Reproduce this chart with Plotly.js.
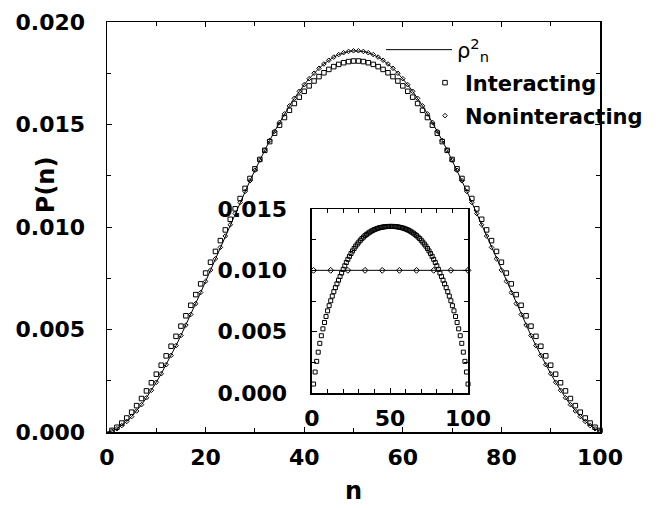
<!DOCTYPE html>
<html><head><meta charset="utf-8">
<script src="https://cdn.plot.ly/plotly-3.0.1.min.js"></script>
<style>body{margin:0;background:#fff}</style></head>
<body><div id="chart" style="width:666px;height:508px"></div>
<script>
// Main panel: n = 0..100 for the rho^2 line, n = 1..100 for the markers
const rho2 = [0,
0.0000475,0.0001565,0.0003139,0.0005138,0.0007523,0.0010263,0.001333,0.00167,0.002036,0.002427,
0.002843,0.003281,0.003738,0.004215,0.004707,0.005214,0.005733,0.006263,0.006802,0.007347,
0.007898,0.008451,0.009006,0.009559,0.01011,0.010658,0.011198,0.011731,0.012255,0.012767,
0.013266,0.013751,0.01422,0.014672,0.015104,0.015517,0.015908,0.016277,0.016621,0.016941,
0.017235,0.017502,0.017742,0.017953,0.018135,0.018288,0.018411,0.018503,0.018565,0.018596,
0.018596,0.018565,0.018503,0.018411,0.018288,0.018135,0.017953,0.017742,0.017502,0.017235,
0.016941,0.016621,0.016277,0.015908,0.015517,0.015104,0.014672,0.01422,0.013751,0.013266,
0.012767,0.012255,0.011731,0.011198,0.010658,0.01011,0.009559,0.009006,0.008451,0.007898,
0.007347,0.006802,0.006263,0.005733,0.005214,0.004707,0.004215,0.003738,0.003281,0.002843,
0.002427,0.002036,0.00167,0.001333,0.0010263,0.0007523,0.0005138,0.0003139,0.0001565,0.0000475];

const noninteracting = [
0.0000475,0.0001565,0.0003139,0.0005138,0.0007523,0.0010263,0.001333,0.00167,0.002036,0.002427,
0.002843,0.003281,0.003738,0.004215,0.004707,0.005214,0.005733,0.006263,0.006802,0.007347,
0.007898,0.008451,0.009006,0.009559,0.01011,0.010658,0.011198,0.011731,0.012255,0.012767,
0.013266,0.013751,0.01422,0.014672,0.015104,0.015517,0.015908,0.016277,0.016621,0.016941,
0.017235,0.017502,0.017742,0.017953,0.018135,0.018288,0.018411,0.018503,0.018565,0.018596,
0.018596,0.018565,0.018503,0.018411,0.018288,0.018135,0.017953,0.017742,0.017502,0.017235,
0.016941,0.016621,0.016277,0.015908,0.015517,0.015104,0.014672,0.01422,0.013751,0.013266,
0.012767,0.012255,0.011731,0.011198,0.010658,0.01011,0.009559,0.009006,0.008451,0.007898,
0.007347,0.006802,0.006263,0.005733,0.005214,0.004707,0.004215,0.003738,0.003281,0.002843,
0.002427,0.002036,0.00167,0.001333,0.0010263,0.0007523,0.0005138,0.0003139,0.0001565,0.0000475];

const interacting = [
0.0000779,0.000231,0.000436,0.000684,0.000968,0.001286,0.001632,0.002005,0.002402,0.002821,
0.003259,0.003714,0.004184,0.004668,0.005164,0.005669,0.006182,0.006702,0.007226,0.007753,
0.008282,0.00881,0.009336,0.009858,0.010376,0.010887,0.01139,0.011884,0.012367,0.012838,
0.013296,0.013739,0.014166,0.014576,0.014968,0.01534,0.015693,0.016025,0.016334,0.01662,
0.016884,0.017122,0.017336,0.017525,0.017687,0.017823,0.017932,0.018014,0.018069,0.018097,
0.018097,0.018069,0.018014,0.017932,0.017823,0.017687,0.017525,0.017336,0.017122,0.016884,
0.01662,0.016334,0.016025,0.015693,0.01534,0.014968,0.014576,0.014166,0.013739,0.013296,
0.012838,0.012367,0.011884,0.01139,0.010887,0.010376,0.009858,0.009336,0.00881,0.008282,
0.007753,0.007226,0.006702,0.006182,0.005669,0.005164,0.004668,0.004184,0.003714,0.003259,
0.002821,0.002402,0.002005,0.001632,0.001286,0.000968,0.000684,0.000436,0.000231,0.0000779];

// Inset: n = 1..100
const insetInteracting = [
0.00073,0.00171,0.00258,0.00333,0.00405,0.00467,0.00523,0.00575,0.00624,0.0067,
0.00712,0.00752,0.0079,0.00826,0.00859,0.0089,0.0092,0.0095,0.00978,0.01008,
0.01037,0.01064,0.0109,0.01114,0.01137,0.01158,0.01178,0.01197,0.01214,0.0123,
0.01245,0.01259,0.01271,0.01283,0.01293,0.01303,0.01311,0.01319,0.01326,0.01332,
0.01337,0.01342,0.01346,0.01349,0.01352,0.01354,0.01356,0.01357,0.01358,0.01358,
0.01358,0.01358,0.01357,0.01356,0.01354,0.01352,0.01349,0.01346,0.01342,0.01337,
0.01332,0.01326,0.01319,0.01311,0.01303,0.01293,0.01283,0.01271,0.01259,0.01245,
0.0123,0.01214,0.01197,0.01178,0.01158,0.01137,0.01114,0.0109,0.01064,0.01037,
0.01008,0.00978,0.0095,0.0092,0.0089,0.00859,0.00826,0.0079,0.00752,0.00712,
0.0067,0.00624,0.00575,0.00523,0.00467,0.00405,0.00333,0.00258,0.00171,0.00073];
const insetNonN = [1,12,23,34,45,56,67,78,89,100];
const insetNonVal = [0.01,0.01,0.01,0.01,0.01,0.01,0.01,0.01,0.01,0.01];

const mainXTicks = [0,20,40,60,80,100];
const mainYTicks = [0,0.005,0.010,0.015,0.020];
const insetXTicks = [0,50,100];
const insetYTicks = [0,0.005,0.010,0.015];

const nLine = rho2.map((_, i) => i);
const nPts = interacting.map((_, i) => i + 1);
const nInset = insetInteracting.map((_, i) => i + 1);

const FONT = 'DejaVu Sans, Arial, sans-serif';
const blk = '#000';

const traces = [
  {x: nLine, y: rho2, type: 'scatter', mode: 'lines', legend: 'legend',
   name: '<span style="font-weight:normal">ρ<sup>2</sup><sub>n</sub></span>',
   line: {color: blk, width: 1}, xaxis: 'x', yaxis: 'y', cliponaxis: false},
  {x: nPts, y: interacting, type: 'scatter', mode: 'markers', name: 'Interacting', legend: 'legend2',
   marker: {symbol: 'square-open', size: 4.5, color: blk, line: {width: 1, color: blk}}, xaxis: 'x', yaxis: 'y', cliponaxis: false},
  {x: nPts, y: noninteracting, type: 'scatter', mode: 'markers', name: 'Noninteracting', legend: 'legend3',
   marker: {symbol: 'diamond-open', size: 3.5, color: blk, line: {width: 1, color: blk}}, xaxis: 'x', yaxis: 'y', cliponaxis: false},
  {x: nInset, y: insetInteracting, type: 'scatter', mode: 'markers', showlegend: false,
   marker: {symbol: 'square-open', size: 4, color: blk, line: {width: 1, color: blk}}, xaxis: 'x2', yaxis: 'y2', cliponaxis: false},
  {x: insetNonN, y: insetNonVal, type: 'scatter', mode: 'lines+markers', showlegend: false,
   line: {color: blk, width: 1},
   marker: {symbol: 'diamond-open', size: 4.5, color: blk, line: {width: 1, color: blk}}, xaxis: 'x2', yaxis: 'y2', cliponaxis: false}
];

const axBase = {
  showline: true, linecolor: blk, linewidth: 1.5, mirror: 'allticks',
  ticks: 'inside', ticklen: 5, tickwidth: 1, tickcolor: blk,
  showgrid: false, zeroline: false,
  tickfont: {family: FONT, size: 22, color: blk, weight: 'bold'}
};
const legFont = {family: FONT, size: 21, color: blk, weight: 'bold'};
const legBase = {xanchor: 'left', yanchor: 'middle', bgcolor: 'rgba(0,0,0,0)', font: legFont};

const layout = {
  width: 666, height: 508,
  margin: {l: 107, r: 66, t: 22, b: 76},
  paper_bgcolor: '#fff', plot_bgcolor: '#fff',
  font: {family: FONT, color: blk, weight: 'bold'},
  showlegend: true,
  legend: Object.assign({}, legBase, {x: (381 - 107) / 493, y: (432 - 50) / 410, itemwidth: 66}),
  legend2: Object.assign({}, legBase, {x: (425 - 107) / 493, y: (432 - 83) / 410, itemwidth: 30}),
  legend3: Object.assign({}, legBase, {x: (425 - 107) / 493, y: (432 - 116) / 410, itemwidth: 30}),
  xaxis: Object.assign({}, axBase, {domain: [0, 1], range: [0, 100], tickvals: mainXTicks,
    ticklabelstandoff: 5, minor: {ticks: 'inside', dtick: 10, ticklen: 4, tickwidth: 1, tickcolor: blk}}),
  yaxis: Object.assign({}, axBase, {domain: [0, 1], range: [0, 0.02], tickvals: mainYTicks, tickformat: '.3f',
    ticklabelstandoff: 16, minor: {ticks: 'inside', dtick: 0.0025, ticklen: 4, tickwidth: 1, tickcolor: blk}}),
  xaxis2: Object.assign({}, axBase, {domain: [0.4158, 0.7323], anchor: 'y2', range: [0, 100], tickvals: insetXTicks,
    ticklabelstandoff: 5, minor: {ticks: 'inside', dtick: 10, ticklen: 4, tickwidth: 1, tickcolor: blk}}),
  yaxis2: Object.assign({}, axBase, {domain: [0.0951, 0.5439], anchor: 'x2', range: [0, 0.015], tickvals: insetYTicks, tickformat: '.3f',
    ticklabelstandoff: 19, minor: {ticks: 'inside', dtick: 0.0025, ticklen: 4, tickwidth: 1, tickcolor: blk}}),
  annotations: [
    {text: 'P(n)', xref: 'paper', yref: 'paper', x: -0.1237, y: 0.602, textangle: -90, showarrow: false,
     xanchor: 'center', yanchor: 'middle', font: {family: FONT, size: 24, color: blk, weight: 'bold'}},
    {text: 'n', xref: 'paper', yref: 'paper', x: 0.499, y: (432 - 507) / 410, showarrow: false,
     xanchor: 'center', yanchor: 'bottom', font: {family: FONT, size: 24, color: blk, weight: 'bold'}}
  ]
};

Plotly.newPlot('chart', traces, layout, {staticPlot: true, displayModeBar: false});
</script>
</body></html>
